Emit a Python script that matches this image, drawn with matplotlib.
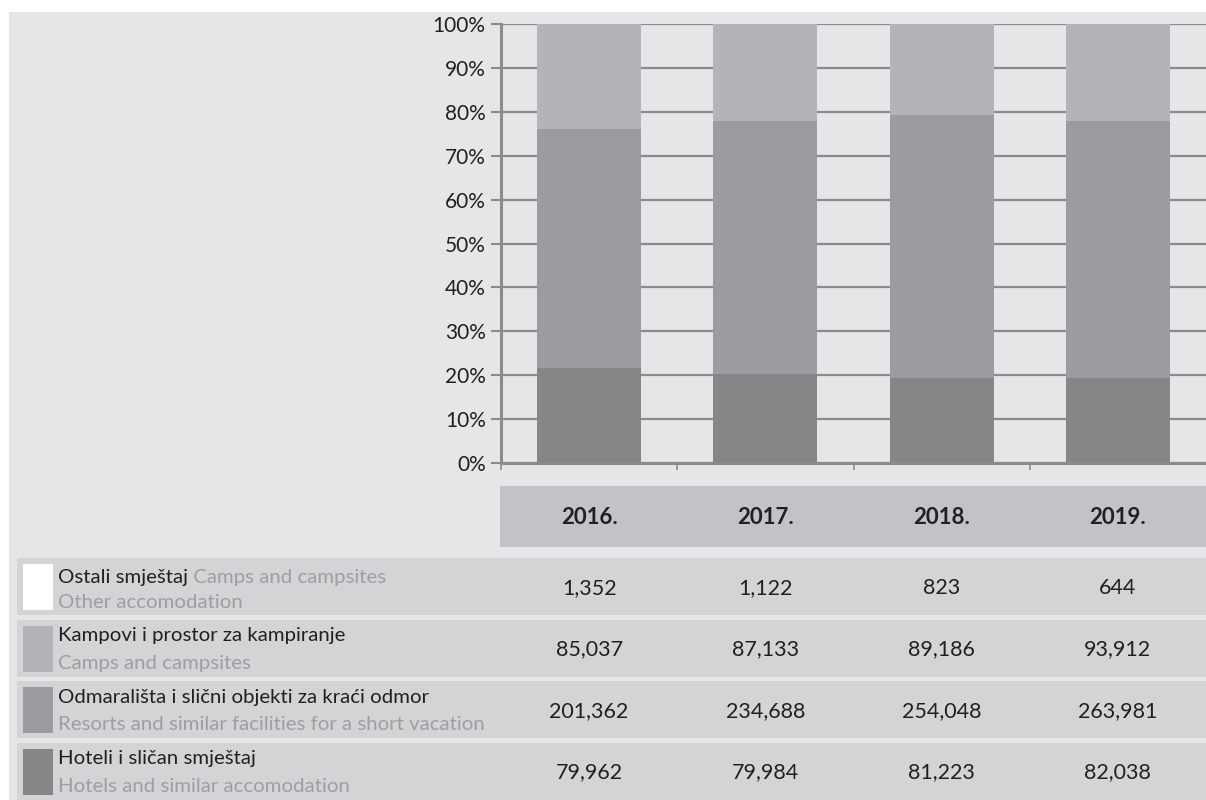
import numpy as np
import matplotlib
import matplotlib.pyplot as plt
import matplotlib.transforms as mtransforms
from matplotlib.patches import Rectangle
matplotlib.use('Agg')

# data
years = ['2016.', '2017.', '2018.', '2019.']
hotels = [79962, 79984, 81223, 82038]
resorts = [201362, 234688, 254048, 263981]
camps = [85037, 87133, 89186, 93912]
other = [1352, 1122, 823, 644]

# bar shares (%)
hotels_pct = [21.6, 20.2, 19.4, 19.4]
resorts_pct = [54.5, 57.7, 59.8, 58.5]
camps_pct = [23.9, 22.1, 20.8, 22.1]

row_hr = ['Ostali smještaj', 'Kampovi i prostor za kampiranje',
          'Odmarališta i slični objekti za kraći odmor', 'Hoteli i sličan smještaj']
row_en = ['Other accomodation', 'Camps and campsites',
          'Resorts and similar facilities for a short vacation', 'Hotels and similar accomodation']
row_values = [other, camps, resorts, hotels]

BG = '#e6e6e8'
HEADER = '#c2c3c6'
ROW = '#d4d4d6'
GRID = '#8b8b8d'
TEXT = '#231f20'
GREY_TEXT = '#9d9ea1'
colors = {'hotels': '#858688', 'resorts': '#9b9ca0', 'camps': '#b3b4b7', 'other': '#ffffff'}
row_colors = [colors['other'], colors['camps'], colors['resorts'], colors['hotels']]

plt.rcParams['font.family'] = ['Lato', 'DejaVu Sans']

W, H = 1206, 800


def fx(px):
    return px / W


def fy(py):
    return 1 - py / H


def main():
    fig = plt.figure(figsize=(W / 100, H / 100), dpi=100, facecolor='white')
    # grey page background
    fig.patches.append(Rectangle((fx(9), 0), 1, fy(12), transform=fig.transFigure,
                                 facecolor=BG, edgecolor='none', zorder=-5))

    ax = fig.add_axes([fx(501), fy(463), fx(W - 501), (463 - 24) / H])
    ax.set_facecolor(BG)

    x = np.arange(len(years))
    bottom = np.zeros(len(years))
    for pct, c in [(hotels_pct, colors['hotels']), (resorts_pct, colors['resorts']),
                   (camps_pct, colors['camps'])]:
        ax.bar(x, pct, 0.59, bottom=bottom, color=c, edgecolor='none', zorder=3)
        bottom += np.array(pct)

    ax.set_xlim(-0.5, 3.5)
    ax.set_ylim(0, 100)
    ax.set_yticks(np.arange(0, 101, 10))
    ax.set_yticklabels([f'{v}%' for v in range(0, 101, 10)], fontsize=15, color=TEXT)
    ax.grid(axis='y', color=GRID, linewidth=1.6, zorder=1)
    ax.set_axisbelow(True)
    ax.set_xticks([-0.5, 0.5, 1.5, 2.5])
    ax.set_xticklabels([])
    ax.tick_params(axis='y', length=7, width=1.5, color=GRID, pad=4)
    ax.tick_params(axis='x', length=5, width=1.2, color=GRID, direction='out')
    for s in ['top', 'right']:
        ax.spines[s].set_visible(False)
    for s in ['left', 'bottom']:
        ax.spines[s].set_color(GRID)
        ax.spines[s].set_linewidth(2.2)
        ax.spines[s].set_zorder(4)

    # header band with years
    fig.patches.append(Rectangle((fx(500), fy(547)), 1 - fx(500), (547 - 486) / H,
                                 transform=fig.transFigure, facecolor=HEADER,
                                 edgecolor='none', zorder=1))
    blend = mtransforms.blended_transform_factory(ax.transData, fig.transFigure)
    for i, y in enumerate(years):
        fig.text(i, fy(517), y, transform=blend, ha='center', va='center',
                 fontsize=16, fontweight='bold', color=TEXT)

    # table rows
    row_tops = [558, 619.5, 681, 742.5]
    row_h = 57
    for r in range(4):
        top = row_tops[r]
        fig.patches.append(Rectangle((fx(17), fy(top + row_h)), 1 - fx(17), row_h / H,
                                     transform=fig.transFigure, facecolor=ROW,
                                     edgecolor='none', zorder=1))
        fig.patches.append(Rectangle((fx(23), fy(top + row_h - 5)), fx(30), (row_h - 11) / H,
                                     transform=fig.transFigure, facecolor=row_colors[r],
                                     edgecolor='none', zorder=2))
        if r == 0:
            t = fig.text(fx(58), fy(top + 19), row_hr[r], ha='left', va='center',
                         fontsize=14.7, color=TEXT)
            fig.canvas.draw()
            bb = t.get_window_extent()
            fig.text(bb.x1 / W, fy(top + 19), ' Camps and campsites', ha='left', va='center',
                     fontsize=14.7, color=GREY_TEXT)
        else:
            fig.text(fx(58), fy(top + 16), row_hr[r], ha='left', va='center',
                     fontsize=14.7, color=TEXT)
        fig.text(fx(58), fy(top + 44), row_en[r], ha='left', va='center',
                 fontsize=14.7, color=GREY_TEXT)
        for i, v in enumerate(row_values[r]):
            fig.text(i, fy(top + 30), f'{v:,}', transform=blend, ha='center', va='center',
                     fontsize=15.5, color=TEXT)

    fig.savefig('out.png', dpi=100, facecolor='white')


if __name__ == "__main__":
    main()
